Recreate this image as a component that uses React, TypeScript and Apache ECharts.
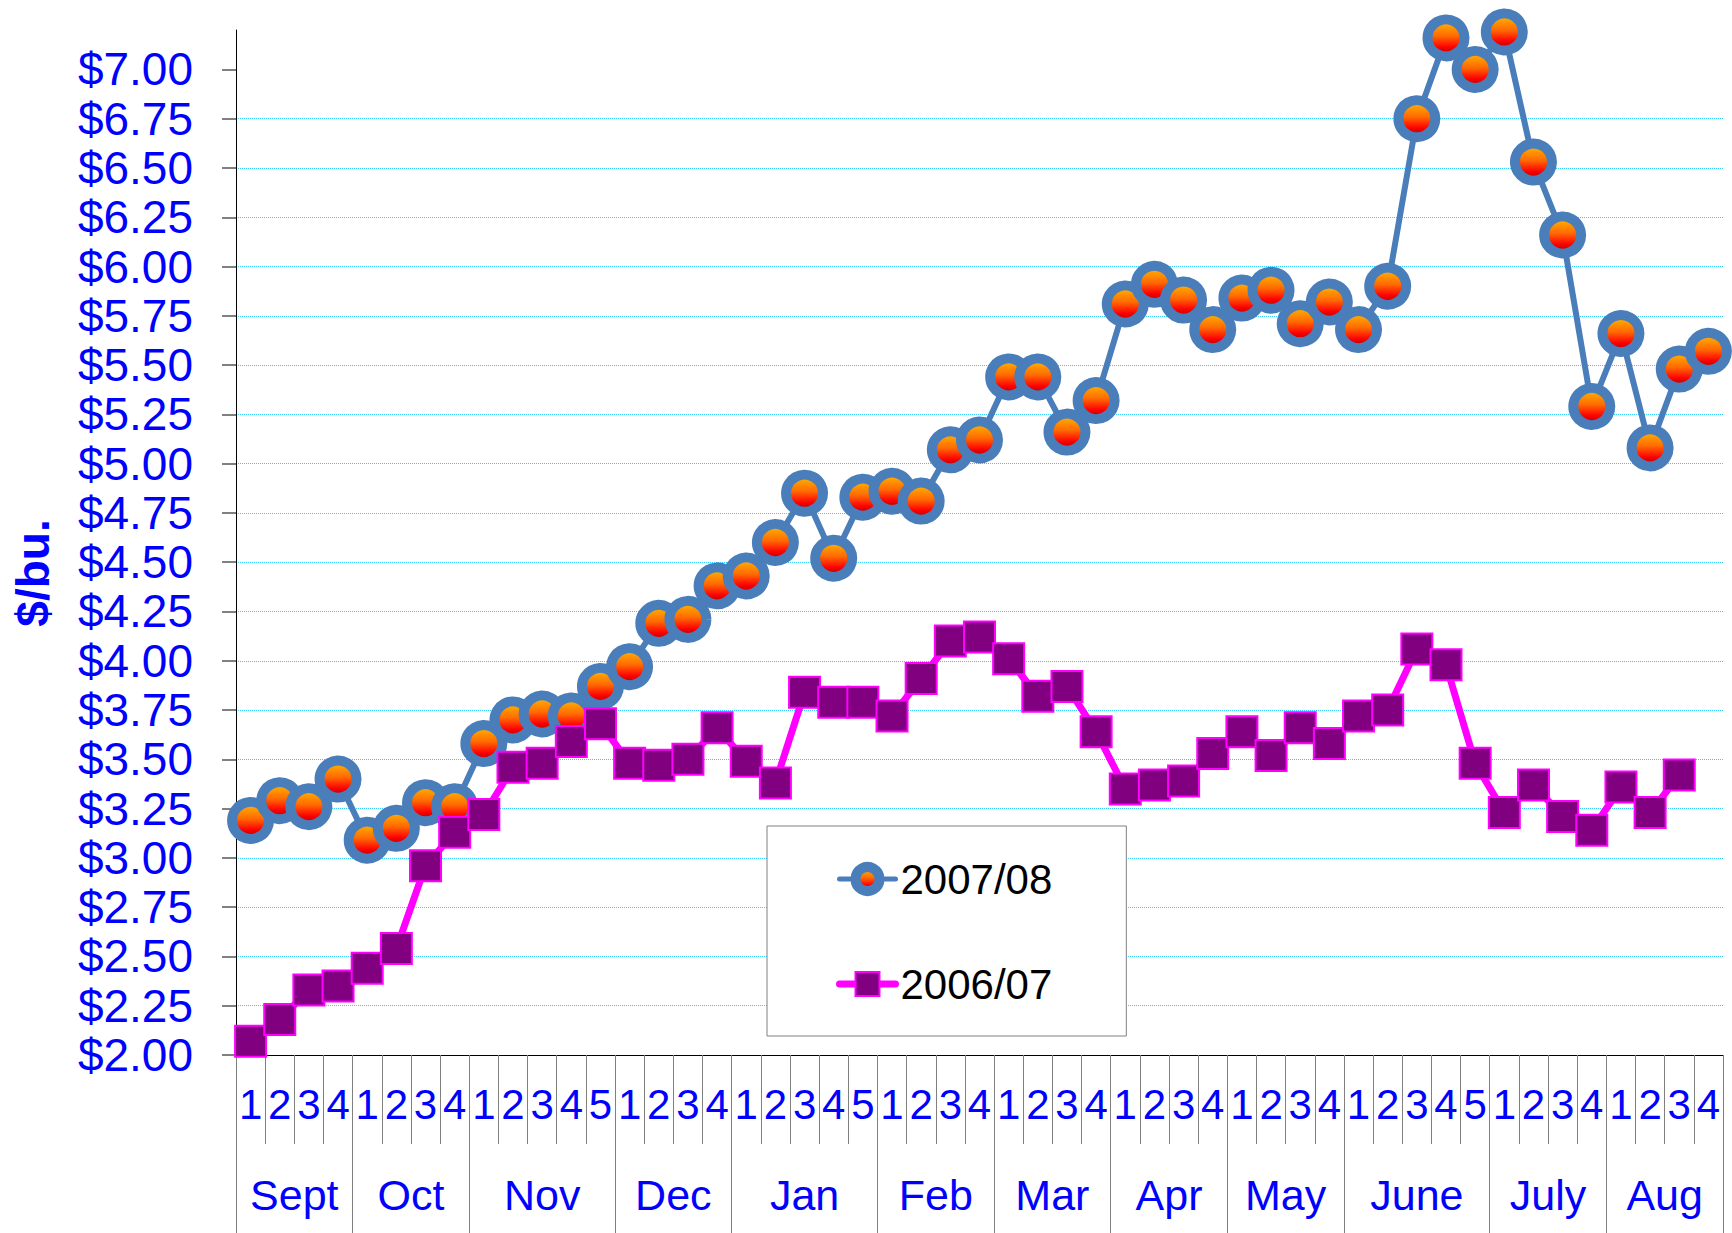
import React, { useEffect, useRef } from "react";
import * as echarts from "echarts";

const months = ["Sept", "Oct", "Nov", "Dec", "Jan", "Feb", "Mar", "Apr", "May", "June", "July", "Aug"];
const weeksPerMonth = [4, 4, 5, 4, 5, 4, 4, 4, 4, 5, 4, 4];

const price0708 = [
  3.19, 3.29, 3.26, 3.40,
  3.09, 3.15, 3.28, 3.26,
  3.58, 3.70, 3.73, 3.72, 3.87,
  3.97, 4.19, 4.21, 4.38,
  4.43, 4.60, 4.85, 4.52, 4.83,
  4.86, 4.81, 5.07, 5.12,
  5.44, 5.44, 5.16, 5.32,
  5.81, 5.91, 5.83, 5.68,
  5.84, 5.88, 5.71, 5.82,
  5.68, 5.90, 6.75, 7.16, 7.00,
  7.19, 6.53, 6.16, 5.29,
  5.66, 5.08, 5.48, 5.57,
];

const price0607 = [
  2.07, 2.18, 2.33, 2.35,
  2.44, 2.54, 2.96, 3.13,
  3.22, 3.46, 3.48, 3.59, 3.68,
  3.48, 3.47, 3.50, 3.66,
  3.49, 3.38, 3.84, 3.79, 3.79,
  3.72, 3.91, 4.10, 4.12,
  4.01, 3.82, 3.87, 3.64,
  3.35, 3.37, 3.39, 3.53,
  3.64, 3.52, 3.66, 3.58,
  3.72, 3.75, 4.06, 3.98, 3.48,
  3.23, 3.37, 3.21, 3.14,
  3.36, 3.23, 3.42, null,
];

const yTicks = [2, 2.25, 2.5, 2.75, 3, 3.25, 3.5, 3.75, 4, 4.25, 4.5, 4.75, 5, 5.25, 5.5, 5.75, 6, 6.25, 6.5, 6.75, 7];

const FONT = '"Liberation Sans", Arial, sans-serif';
const BLUE = "#4A7EBB";
const MAGENTA = "#FF00FF";
const PURPLE = "#800080";

export default function App() {
  const ref = useRef<HTMLDivElement>(null);
  useEffect(() => {
    if (!ref.current) return;
    const chart = echarts.init(ref.current, undefined, { renderer: "svg" });

    const weekCats: string[] = [];
    const monthBounds: number[] = [0];
    const monthMids: number[] = [];
    let acc = 0;
    months.forEach((m, i) => {
      for (let w = 1; w <= weeksPerMonth[i]; w++) weekCats.push(m + "-" + w);
      monthMids.push(acc + weeksPerMonth[i] / 2);
      acc += weeksPerMonth[i];
      monthBounds.push(acc);
    });

    const ringGradient = () =>
      new echarts.graphic.LinearGradient(0, 0, 0, 1, [
        { offset: 0, color: "#FFC000" },
        { offset: 0.45, color: "#FF6A00" },
        { offset: 0.75, color: "#FF0000" },
        { offset: 1, color: "#990000" },
      ]);

    chart.setOption({
      animation: false,
      backgroundColor: "#ffffff",
      grid: { left: 236, right: 9, top: 30, bottom: 178, containLabel: false },
      xAxis: [
        {
          type: "category",
          position: "bottom",
          data: weekCats,
          boundaryGap: true,
          axisLine: { show: true, lineStyle: { color: "#000000", width: 1 } },
          axisTick: { show: true, interval: 0, length: 89, lineStyle: { color: "#808080", width: 1 } },
          axisLabel: {
            interval: 0,
            margin: 28,
            color: "#0000FF",
            fontSize: 42,
            fontFamily: FONT,
            formatter: (v: string) => v.split("-")[1],
          },
          splitLine: { show: false },
        },
        {
          type: "value",
          position: "bottom",
          min: 0,
          max: acc,
          axisLine: { show: false },
          splitLine: { show: false },
          axisTick: {
            show: true,
            length: 178,
            customValues: monthBounds,
            lineStyle: { color: "#808080", width: 1 },
          },
          axisLabel: {
            customValues: monthMids,
            margin: 118,
            color: "#0000FF",
            fontSize: 43,
            fontFamily: FONT,
            formatter: (v: number) => {
              const idx = monthMids.findIndex((m) => Math.abs(m - v) < 1e-6);
              return idx >= 0 ? months[idx] : "";
            },
          },
        },
      ],
      yAxis: {
        type: "value",
        min: 2,
        max: 7.2,
        interval: 0.25,
        axisLine: { show: true, lineStyle: { color: "#000000", width: 1 } },
        axisTick: { show: true, length: 14, customValues: yTicks, lineStyle: { color: "#808080", width: 2 } },
        axisLabel: {
          customValues: yTicks,
          margin: 43,
          color: "#0000FF",
          fontSize: 46,
          fontFamily: FONT,
          formatter: (v: number) => "$" + v.toFixed(2),
        },
        splitLine: {
          show: true,
          showMaxLine: false,
          lineStyle: { color: "#33CCFF", type: "dotted", width: 1 },
        },
      },
      legend: {
        orient: "vertical",
        left: 767,
        top: 826,
        padding: [32, 74, 31, 69],
        itemGap: 63,
        itemWidth: 56,
        itemHeight: 30,
        backgroundColor: "#ffffff",
        borderColor: "#808080",
        borderWidth: 1,
        textStyle: { color: "#000000", fontSize: 42, fontFamily: FONT, lineHeight: 42 },
        data: [
          {
            name: "2007/08",
            itemStyle: { color: ringGradient(), borderColor: BLUE, borderWidth: 10 },
            lineStyle: { color: BLUE, width: 5, cap: "round" },
          },
          {
            name: "2006/07",
            itemStyle: { color: PURPLE, borderColor: MAGENTA, borderWidth: 2 },
            lineStyle: { color: MAGENTA, width: 7, cap: "round" },
          },
        ],
      },
      graphic: [
        {
          type: "text",
          x: 33,
          y: 573,
          rotation: Math.PI / 2,
          style: {
            text: "$/bu.",
            font: 'bold 46px "Liberation Sans", Arial, sans-serif',
            fill: "#0000FF",
            align: "center",
            verticalAlign: "middle",
          },
        },
      ],
      series: [
        {
          name: "2007/08",
          type: "line",
          xAxisIndex: 0,
          data: price0708,
          clip: false,
          symbol: "circle",
          symbolSize: 37,
          lineStyle: { color: BLUE, width: 6 },
          itemStyle: { color: ringGradient(), borderColor: BLUE, borderWidth: 10 },
        },
        {
          name: "2006/07",
          type: "line",
          xAxisIndex: 0,
          data: price0607,
          clip: false,
          connectNulls: false,
          symbol: "rect",
          symbolSize: 31,
          lineStyle: { color: MAGENTA, width: 7 },
          itemStyle: { color: PURPLE, borderColor: MAGENTA, borderWidth: 2 },
        },
      ],
    });
    return () => chart.dispose();
  }, []);
  return (
    <div
      ref={ref}
      style={{ position: "absolute", left: 0, top: 0, width: 1732, height: 1233, background: "#fff" }}
    />
  );
}
